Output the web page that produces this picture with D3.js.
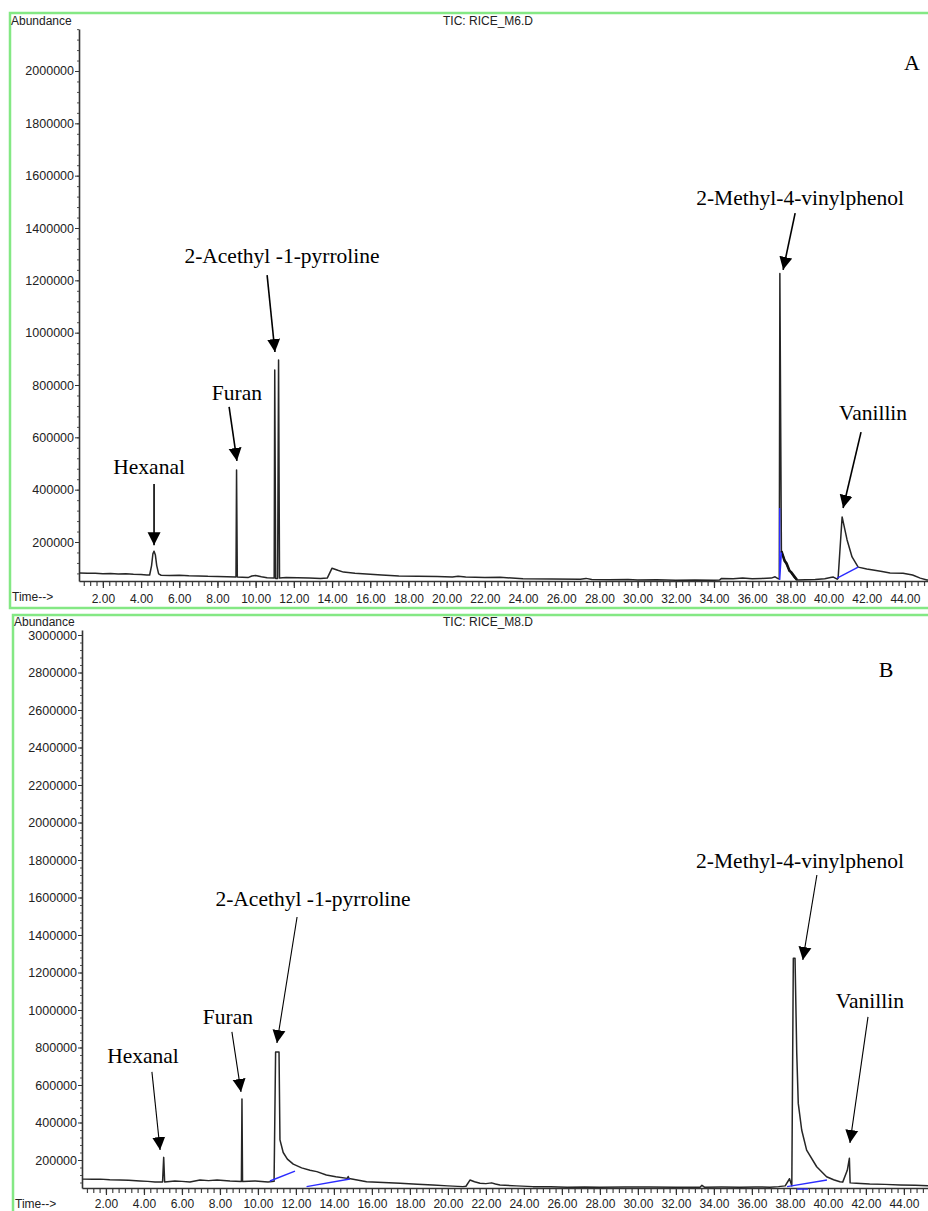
<!DOCTYPE html>
<html>
<head>
<meta charset="utf-8">
<script src="https://cdn.jsdelivr.net/npm/d3@7"></script>
<style>
  body { margin: 0; background: #fff; }
  svg { display: block; }
</style>
</head>
<body>
<div id="chart"></div>
<script>
// retention-time axis labels and abundance ticks
const timeTicks = [2, 4, 6, 8, 10, 12, 14, 16, 18, 20, 22, 24, 26, 28, 30, 32, 34, 36, 38, 40, 42, 44];
const abundTicksA = [200000, 400000, 600000, 800000, 1000000, 1200000, 1400000, 1600000, 1800000, 2000000];
const abundTicksB = [200000, 400000, 600000, 800000, 1000000, 1200000, 1400000, 1600000, 1800000, 2000000,
                     2200000, 2400000, 2600000, 2800000, 3000000];

// TIC trace, sample M6  [time (min), abundance]
const traceA = [
  [0.78, 82000], [1.2, 81000], [1.6, 80500], [2.0, 79000], [2.4, 80000], [2.8, 78000], [3.2, 78500],
  [3.6, 76500], [4.0, 76000], [4.3, 74000], [4.45, 74000], [4.55, 110000], [4.62, 155000], [4.68, 165000],
  [4.75, 150000], [4.82, 110000], [4.92, 78000], [5.05, 73000], [5.5, 72000], [6.0, 72500], [6.5, 71000],
  [7.0, 70500], [7.5, 69000], [8.0, 68500], [8.5, 67000], [8.97, 66000], [9.0, 475000], [9.04, 66000],
  [9.3, 65000], [9.6, 64000], [9.8, 70000], [10.0, 72000], [10.3, 67000], [10.6, 63000], [10.97, 62000],
  [11.0, 857000], [11.05, 61000], [11.15, 61000], [11.2, 896000], [11.25, 62000], [11.6, 64000],
  [12.2, 63000], [12.8, 62000], [13.4, 61000], [13.75, 62000], [14.0, 100000], [14.3, 92000],
  [14.6, 85000], [15.2, 81000], [15.8, 78000], [16.6, 74000], [17.5, 70000], [18.5, 69000], [19.5, 68000],
  [20.3, 66000], [20.6, 69000], [21.0, 66000], [22.0, 64000], [22.8, 65000], [24.0, 60000], [25.5, 59000],
  [27.0, 58000], [27.3, 61000], [27.6, 57000], [28.5, 56000], [29.5, 57000], [30.0, 55000], [31.0, 56000],
  [32.0, 54000], [33.0, 55000], [34.0, 54000], [34.3, 55000], [34.4, 61000], [35.0, 60000], [35.5, 62000],
  [36.0, 60000], [36.5, 61000], [37.0, 62000], [37.2, 67000], [37.35, 60000], [37.42, 58000],
  [37.45, 1226000], [37.53, 165000], [37.75, 122000], [37.95, 92000], [38.2, 65000], [38.35, 55000],
  [38.8, 56000], [39.3, 57000], [39.8, 60000], [40.1, 64000], [40.25, 66000], [40.45, 58000],
  [40.5, 62000], [40.71, 296000], [40.97, 208000], [41.23, 143000], [41.55, 104000], [42.0, 97000],
  [42.33, 93000], [42.8, 87000], [43.22, 82000], [43.9, 81000], [44.4, 74000], [44.8, 62000],
  [45.15, 55000], [45.5, 54000]
];
// integration baselines (blue) and heavy tail marks, sample M6
const blueA = [
  [[37.44, 330000], [37.44, 55000], [37.53, 160000]],
  [[40.45, 62000], [41.55, 104000]]
];
const darkA = [
  [[37.53, 165000], [37.7, 128000], [37.8, 118000], [37.95, 90000], [38.05, 84000], [38.35, 55000]]
];

// TIC trace, sample M8
const traceB = [
  [0.78, 98000], [1.3, 97000], [1.7, 98000], [2.2, 95000], [2.74, 93000], [3.2, 92000], [3.79, 88000],
  [4.2, 86000], [4.58, 83000], [4.98, 83000], [5.04, 214000], [5.09, 83000], [5.63, 88000], [6.0, 86000],
  [6.42, 83000], [6.95, 93000], [7.4, 90000], [7.85, 93000], [8.53, 88000], [9.13, 85000],
  [9.16, 525000], [9.19, 85000], [9.85, 88000], [10.53, 83000], [10.85, 86000], [10.93, 776000],
  [11.11, 776000], [11.16, 307000], [11.33, 240000], [11.55, 205000], [11.86, 178000], [12.3, 158000],
  [12.74, 145000], [13.1, 138000], [13.6, 120000], [14.1, 111000], [14.7, 102000], [14.75, 112000],
  [14.8, 101000], [15.72, 84000], [16.6, 80000], [17.48, 76000], [18.4, 71000], [19.21, 67000],
  [20.0, 62000], [20.79, 58000], [20.95, 60000], [21.16, 93000], [21.4, 84000], [21.69, 76000],
  [22.0, 74000], [22.3, 78000], [22.5, 72000], [22.74, 67000], [23.6, 62000], [24.48, 58000],
  [25.4, 57000], [26.27, 55000], [27.2, 56000], [28.0, 55000], [29.3, 56000], [30.6, 56000],
  [32.0, 55000], [33.27, 55000], [33.37, 65000], [33.5, 55000], [34.4, 56000], [35.37, 55000],
  [36.2, 56000], [36.95, 55000], [37.4, 58000], [37.75, 62000], [37.98, 100000], [38.1, 62000],
  [38.18, 1276000], [38.27, 1276000], [38.36, 770000], [38.44, 502000], [38.62, 360000],
  [38.88, 253000], [39.41, 164000], [39.93, 111000], [40.3, 95000], [40.63, 84000], [40.78, 82000],
  [41.02, 145000], [41.13, 209000], [41.17, 78000], [41.5, 76000], [42.2, 72000], [43.0, 70000],
  [43.8, 67000], [44.6, 65000], [45.5, 62000]
];
const blueB = [
  [[10.63, 88000], [11.95, 141000]],
  [[12.56, 58000], [14.84, 99000]],
  [[37.85, 58000], [39.95, 93000]],
  [[38.37, 45000], [38.95, 45000]]
];
const darkB = [];

// compound labels: text anchor, arrow tail, arrow tip  [time, abundance]
const notesA = [
  { name: "Hexanal", at: [4.42, 460000], from: [4.68, 422000], to: [4.68, 188000] },
  { name: "Furan", at: [9.02, 743000], from: [8.61, 716000], to: [9.02, 510000] },
  { name: "2-Acethyl -1-pyrroline", at: [11.38, 1266000], from: [10.6, 1220000], to: [11.01, 926000] },
  { name: "2-Methyl-4-vinylphenol", at: [38.51, 1488000], from: [38.25, 1457000], to: [37.62, 1240000] },
  { name: "Vanillin", at: [42.33, 666000], from: [41.7, 620000], to: [40.76, 330000] }
];
const notesB = [
  { name: "Hexanal", at: [3.95, 720000], from: [4.42, 670000], to: [4.85, 253000] },
  { name: "Furan", at: [8.42, 925000], from: [8.63, 883000], to: [9.11, 563000] },
  { name: "2-Acethyl -1-pyrroline", at: [12.9, 1555000], from: [12.06, 1496000], to: [11.0, 824000] },
  { name: "2-Methyl-4-vinylphenol", at: [38.53, 1757000], from: [39.42, 1720000], to: [38.68, 1267000] },
  { name: "Vanillin", at: [42.21, 1011000], from: [42.11, 963000], to: [41.16, 291000] }
];

const W = 928, H = 1211;
const green = "#84e884";
const sans = "'Liberation Sans', Arial, sans-serif";
const serif = "'Liberation Serif', 'Times New Roman', serif";

const svg = d3.select("#chart").append("svg")
  .attr("width", W).attr("height", H);

svg.append("defs").append("marker")
  .attr("id", "head")
  .attr("markerUnits", "userSpaceOnUse")
  .attr("viewBox", "0 -7 13 14")
  .attr("refX", 13).attr("refY", 0)
  .attr("markerWidth", 13).attr("markerHeight", 14)
  .attr("orient", "auto")
  .append("path")
  .attr("d", "M0,-6.5L13,0L0,6.5Z")
  .attr("fill", "#000");

const panels = [
  { title: "TIC: RICE_M6.D", letter: "A", trace: traceA, blue: blueA, dark: darkA, notes: notesA,
    yTicks: abundTicksA, frame: { x: 10, y: 13, w: 940, h: 595 },
    xDom: [0.75, 45.5], xRange: [79, 933.6], yDom: [51000, 2160500], yRange: [581, 29],
    letterPos: [912, 70], arrowW: 1.6, headY: 12, labelPad: 6 },
  { title: "TIC: RICE_M8.D", letter: "B", trace: traceB, blue: blueB, dark: darkB, notes: notesB,
    yTicks: abundTicksB, frame: { x: 13, y: 615, w: 940, h: 620 },
    xDom: [0.74, 45.5], xRange: [82, 932.4], yDom: [50667, 3026667], yRange: [1188, 630],
    letterPos: [886, 677], arrowW: 1.1, headY: 11, labelPad: 4 }
];

panels.forEach(p => {
  const g = svg.append("g");
  const x = d3.scaleLinear().domain(p.xDom).range(p.xRange);
  const y = d3.scaleLinear().domain(p.yDom).range(p.yRange);
  const x0 = p.xRange[0], yBase = p.yRange[0];

  // green frame
  g.append("rect")
    .attr("x", p.frame.x).attr("y", p.frame.y)
    .attr("width", p.frame.w).attr("height", p.frame.h)
    .attr("fill", "none").attr("stroke", green).attr("stroke-width", 2.5);

  // header texts
  g.append("text").attr("x", p.frame.x + 1).attr("y", p.frame.y + p.headY)
    .attr("font-family", sans).attr("font-size", 12).attr("fill", "#222")
    .text("Abundance");
  g.append("text").attr("x", 488).attr("y", p.frame.y + p.headY)
    .attr("text-anchor", "middle")
    .attr("font-family", sans).attr("font-size", 12).attr("fill", "#222")
    .text(p.title);
  g.append("text").attr("x", p.frame.x + 2).attr("y", yBase + 20)
    .attr("font-family", sans).attr("font-size", 12).attr("fill", "#222")
    .text("Time-->");

  // minor ticks
  const yMinor = d3.range(Math.ceil(p.yDom[0] / 40000) * 40000, p.yDom[1], 40000);
  g.append("g").attr("transform", `translate(${x0},0)`)
    .call(d3.axisLeft(y).tickValues(yMinor).tickSize(2).tickFormat("").tickSizeOuter(0))
    .call(a => a.select(".domain").remove())
    .call(a => a.selectAll("line").attr("stroke", "#555"));
  const xMinor = d3.range(1, 137).map(n => n / 3).filter(t => t > p.xDom[0] && t < p.xDom[1]);
  g.append("g").attr("transform", `translate(0,${yBase})`)
    .call(d3.axisBottom(x).tickValues(xMinor).tickSize(5).tickFormat("").tickSizeOuter(0))
    .call(a => a.select(".domain").remove())
    .call(a => a.selectAll("line").attr("stroke", "#444").attr("stroke-width", 1.2));

  // y axis
  g.append("g").attr("transform", `translate(${x0},0)`)
    .call(d3.axisLeft(y).tickValues(p.yTicks).tickSize(4).tickPadding(1)
      .tickFormat(d3.format("d")).tickSizeOuter(0))
    .call(a => a.select(".domain").attr("stroke", "#333").attr("stroke-width", 1.6))
    .call(a => a.selectAll("line").attr("stroke", "#333"))
    .call(a => a.selectAll("text").attr("font-family", sans).attr("font-size", 12.5).attr("fill", "#222"));

  // x axis
  g.append("g").attr("transform", `translate(0,${yBase})`)
    .call(d3.axisBottom(x).tickValues(timeTicks).tickSize(7).tickPadding(p.labelPad)
      .tickFormat(d3.format(".2f")).tickSizeOuter(0))
    .call(a => a.select(".domain").attr("stroke", "#333").attr("stroke-width", 1.4))
    .call(a => a.selectAll("line").attr("stroke", "#333").attr("stroke-width", 1.2))
    .call(a => a.selectAll("text").attr("font-family", sans).attr("font-size", 12).attr("fill", "#222"));

  const line = d3.line().x(d => x(d[0])).y(d => y(d[1]));

  // trace
  g.append("path").datum(p.trace)
    .attr("d", line)
    .attr("fill", "none").attr("stroke", "#262626").attr("stroke-width", 1.5)
    .attr("stroke-linejoin", "round");

  g.selectAll(".dark").data(p.dark).join("path")
    .attr("d", line)
    .attr("fill", "none").attr("stroke", "#111").attr("stroke-width", 2.6);

  g.selectAll(".blue").data(p.blue).join("path")
    .attr("d", line)
    .attr("fill", "none").attr("stroke", "#2b2bff").attr("stroke-width", 1.4);

  // compound labels
  g.selectAll(".arrow").data(p.notes).join("line")
    .attr("x1", d => x(d.from[0])).attr("y1", d => y(d.from[1]))
    .attr("x2", d => x(d.to[0])).attr("y2", d => y(d.to[1]))
    .attr("stroke", "#000").attr("stroke-width", p.arrowW)
    .attr("marker-end", "url(#head)");
  g.selectAll(".note").data(p.notes).join("text")
    .attr("x", d => x(d.at[0])).attr("y", d => y(d.at[1]))
    .attr("text-anchor", "middle")
    .attr("font-family", serif).attr("font-size", 21.5).attr("fill", "#000")
    .text(d => d.name);

  g.append("text").attr("x", p.letterPos[0]).attr("y", p.letterPos[1])
    .attr("text-anchor", "middle")
    .attr("font-family", serif).attr("font-size", 22).attr("fill", "#000")
    .text(p.letter);
});
</script>
</body>
</html>
